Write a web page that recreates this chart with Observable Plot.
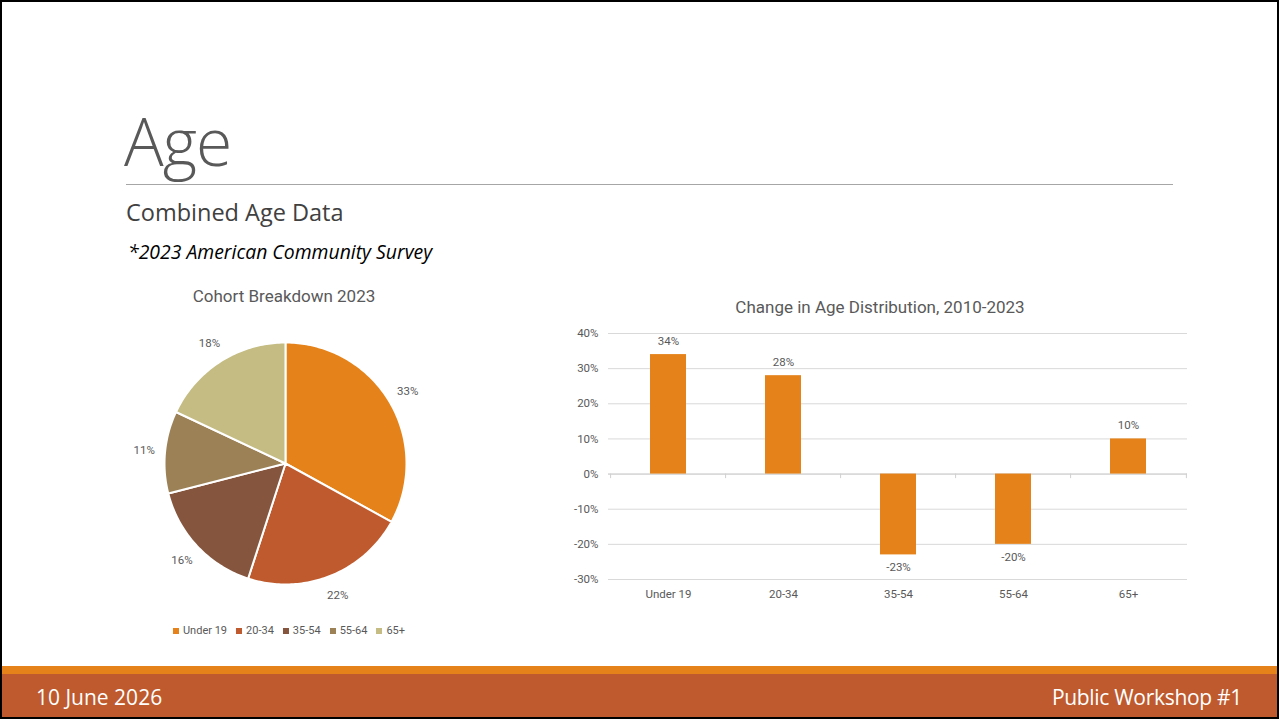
<!DOCTYPE html>
<html>
<head>
<meta charset="utf-8">
<script src="https://cdn.jsdelivr.net/npm/d3@7"></script>
<script src="https://cdn.jsdelivr.net/npm/@observablehq/plot@0.6"></script>
<style>
  html, body { margin: 0; padding: 0; background: #fff; }
  #slide { position: relative; width: 1279px; height: 719px; box-sizing: border-box; border: 2px solid #000; overflow: hidden; background: #fff; font-family: "Open Sans", sans-serif; }
  .abs { position: absolute; }
  #title { left: 122px; top: 105px; font-size: 66px; font-weight: 300; color: #595959; line-height: 1; letter-spacing: -1px; }
  #rule { left: 124px; top: 182px; width: 1047px; height: 1px; background: #a6a6a6; }
  #sub { left: 124px; top: 196px; font-size: 23.5px; color: #404040; line-height: 1.2; }
  #src { left: 126px; top: 238px; font-size: 19.4px; font-style: italic; color: #000; line-height: 1.2; }
  .ctitle { font-family: Roboto, sans-serif; font-size: 17px; color: #595959; white-space: nowrap; transform: translateX(-50%); }
  #pieTitle { left: 282px; top: 284px; }
  #barTitle { left: 878px; top: 295px; }
  #legend { left: 287px; top: 622px; transform: translateX(-50%); display: flex; gap: 9px; font-family: Roboto, sans-serif; font-size: 11px; color: #595959; white-space: nowrap; }
  #legend .it { display: flex; align-items: center; gap: 4px; }
  #legend .sw { width: 6px; height: 6px; display: inline-block; }
  #stripe { left: 0; top: 664px; width: 1279px; height: 8px; background: #E5831A; }
  #band { left: 0; top: 672px; width: 1279px; height: 47px; background: #BE5A2D; }
  .foot { top: 683px; font-family: "Open Sans", sans-serif; font-size: 21px; color: #fff; line-height: 1.2; }
  #date { left: 34px; }
  #ws { right: 35px; letter-spacing: -0.3px; }
</style>
</head>
<body>
<div id="slide">
  <div id="title" class="abs">Age</div>
  <div id="rule" class="abs"></div>
  <div id="sub" class="abs">Combined Age Data</div>
  <div id="src" class="abs">*2023 American Community Survey</div>
  <div id="pieTitle" class="abs ctitle">Cohort Breakdown 2023</div>
  <div id="barTitle" class="abs ctitle">Change in Age Distribution, 2010-2023</div>
  <div id="pie" class="abs" style="left:133px; top:311px;"></div>
  <div id="legend" class="abs"></div>
  <div id="bar" class="abs" style="left:540px; top:316px;"></div>
  <div id="stripe" class="abs"></div>
  <div id="band" class="abs"></div>
  <div id="date" class="abs foot">10 June 2026</div>
  <div id="ws" class="abs foot">Public Workshop #1</div>
</div>
<script>
const categories = ["Under 19", "20-34", "35-54", "55-64", "65+"];
const cohortShare = [33, 22, 16, 11, 18];
const changePct = [34, 28, -23, -20, 10];
const sliceColors = ["#E5831A", "#BE5A2D", "#86553E", "#9C8157", "#C4BC82"];
const barColor = "#E5831A";
const yTicks = [-30, -20, -10, 0, 10, 20, 30, 40];

const chartFont = 'Roboto, sans-serif';

// ---- Pie ----
const R = 121;
const arcs = d3.pie().sort(null).value(d => d)(cohortShare);
const pieRows = [];
arcs.forEach((a, i) => {
  const cat = categories[i];
  pieRows.push({cat, x: 0, y: 0});
  const n = Math.max(2, Math.ceil((a.endAngle - a.startAngle) / (Math.PI / 180)));
  for (let k = 0; k <= n; k++) {
    const t = a.startAngle + (a.endAngle - a.startAngle) * k / n;
    pieRows.push({cat, x: R * Math.sin(t), y: R * Math.cos(t)});
  }
  pieRows.push({cat, x: 0, y: 0});
});
const labelR = 142;
const pieLabels = arcs.map((a, i) => {
  const m = (a.startAngle + a.endAngle) / 2;
  return {x: labelR * Math.sin(m), y: labelR * Math.cos(m), text: cohortShare[i] + "%"};
});

const pie = Plot.plot({
  width: 300, height: 300,
  marginTop: 0, marginBottom: 0, marginLeft: 0, marginRight: 0,
  x: {domain: [-150, 150], axis: null},
  y: {domain: [-150, 150], axis: null},
  color: {domain: categories, range: sliceColors},
  style: {fontFamily: chartFont, fontSize: "11.5px", color: "#595959", background: "transparent", overflow: "visible"},
  marks: [
    Plot.line(pieRows, {x: "x", y: "y", z: "cat", fill: "cat", stroke: "#fff", strokeWidth: 2, strokeLinejoin: "round"}),
    Plot.text(pieLabels, {x: "x", y: "y", text: "text", fill: "#595959"})
  ]
});
document.getElementById("pie").appendChild(pie);

// legend
const leg = document.getElementById("legend");
categories.forEach((c, i) => {
  const it = document.createElement("span");
  it.className = "it";
  const sw = document.createElement("span");
  sw.className = "sw";
  sw.style.background = sliceColors[i];
  it.appendChild(sw);
  it.appendChild(document.createTextNode(c));
  leg.appendChild(it);
});

// ---- Bars ----
const barData = categories.map((c, i) => ({cat: c, v: changePct[i]}));
const W = 660, ML = 66, MR = 15;
const step = (W - ML - MR) / categories.length;
const bar = Plot.plot({
  width: W, height: 289,
  marginLeft: ML, marginRight: MR, marginTop: 15, marginBottom: 28,
  x: {domain: categories, paddingInner: 0.69, paddingOuter: 0.345, label: null, tickSize: 0, tickPadding: 10},
  y: {domain: [-30, 40], ticks: yTicks, tickFormat: d => d + "%", tickSize: 0, tickPadding: 10, label: null},
  style: {fontFamily: chartFont, fontSize: "11.5px", color: "#595959", background: "transparent", overflow: "visible"},
  marks: [
    Plot.gridY(yTicks, {stroke: "#d9d9d9", strokeOpacity: 1, strokeWidth: 1}),
    Plot.ruleY([0], {stroke: "#d0d0d0", strokeWidth: 1}),
    Plot.ruleX(categories, {x: d => d, dx: -step / 2, y1: 0, y2: -1.3, stroke: "#d0d0d0"}),
    Plot.ruleX(categories.slice(-1), {x: d => d, dx: step / 2, y1: 0, y2: -1.3, stroke: "#d0d0d0"}),
    Plot.barY(barData, {x: "cat", y: "v", fill: barColor}),
    Plot.text(barData.filter(d => d.v >= 0), {x: "cat", y: "v", text: d => d.v + "%", lineAnchor: "bottom", dy: -10, fill: "#595959"}),
    Plot.text(barData.filter(d => d.v < 0), {x: "cat", y: "v", text: d => d.v + "%", lineAnchor: "top", dy: 8, fill: "#595959"})
  ]
});
document.getElementById("bar").appendChild(bar);
</script>
</body>
</html>
